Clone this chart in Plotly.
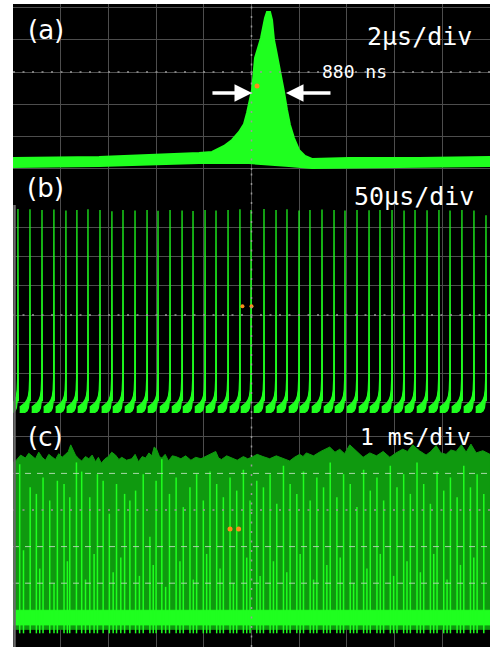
import plotly.graph_objects as go

W, H = 490, 647

# ---------------- panel (a): single pulse, 2 us/div ----------------
# outline of the pulse trace (upper edge, left to right), time in us, level in div
a_top_t = [-10.0, -6.39, -2.20, -1.656, -1.153, -0.818, -0.524, -0.314, -0.189, -0.063,
           0.021, 0.063, 0.105, 0.147, 0.273, 0.398, 0.482, 0.566, 0.650, 0.776,
           0.860, 0.901, 0.943, 1.027, 1.111, 1.237, 1.363, 1.489, 1.614, 1.782,
           1.992, 2.243, 2.537, 4.09, 7.02, 10.0]
a_top_v = [-2.667, -2.636, -2.512, -2.481, -2.295, -2.109, -1.860, -1.612, -1.271, -0.868,
           -0.558, -0.248, 0.124, 0.434, 0.744, 1.054, 1.364, 1.674, 1.860, 1.860,
           1.612, 1.364, 0.992, 0.682, 0.372, -0.093, -0.620, -1.178, -1.643, -2.047,
           -2.419, -2.605, -2.698, -2.667, -2.667, -2.636]
# lower edge of the trace band (right to left)
a_bot_t = [10.0, 6.18, 2.537, 1.572, -0.105, -2.20, -6.39, -10.0]
a_bot_v = [-2.915, -2.946, -2.977, -2.915, -2.822, -2.822, -2.915, -2.946]
a_cursor = (0.231, -0.434)

# ---------------- panel (b): pulse train, 50 us/div ----------------
b_spike_t = [-244.8, -232.2, -219.6, -207.1, -194.5, -183.0, -171.4, -158.8, -146.3, -134.7,
             -122.1, -109.5, -98.0, -85.4, -72.8, -61.3, -48.7, -37.2, -24.6, -12.1,
             -0.5, 13.1, 25.7, 37.2, 49.8, 61.3, 73.9, 86.5, 98.0, 110.6,
             123.2, 134.7, 147.3, 159.9, 171.4, 184.0, 196.5, 208.1, 220.6, 233.2, 245.8]
b_spike_peak = [3.63, 3.62, 3.60, 3.61, 3.58, 3.60, 3.62, 3.60, 3.55, 3.60,
                3.58, 3.60, 3.57, 3.60, 3.58, 3.56, 3.60, 3.58, 3.60, 3.62,
                3.60, 3.63, 3.60, 3.62, 3.58, 3.60, 3.61, 3.60, 3.58, 3.60,
                3.59, 3.60, 3.60, 3.58, 3.60, 3.59, 3.60, 3.58, 3.60, 3.58, 3.42]
# shape of the trace around each spike: offset (us) and level (div),
# upper edge and lower edge of the noisy base band
b_up_dt = [-10.8, -8.0, -5.0, -3.0, -1.6, -0.8, -0.35]
b_up_v = [-3.16, -3.08, -3.00, -2.90, -2.76, -2.55, -2.15]
b_lo_dt = [-10.8, -8.0, -5.0, -3.0, -1.6, -0.8, -0.35]
b_lo_v = [-3.37, -3.36, -3.33, -3.28, -3.18, -3.04, -2.85]
b_cursor_t = [-9.5, 0.0]
b_cursor_v = [0.3, 0.3]

# ---------------- panel (c): long record, 1 ms/div ----------------
c_env_t = [-5.0, -4.93, -4.84, -4.74, -4.67, -4.61, -4.53, -4.46, -4.39, -4.32, -4.25, -4.19,
           -4.11, -4.04, -3.97, -3.90, -3.84, -3.79, -3.74, -3.69, -3.62, -3.56, -3.48,
           -3.41, -3.34, -3.27, -3.21, -3.15, -3.07, -3.00, -2.93, -2.85, -2.78, -2.72,
           -2.62, -2.51, -2.44, -2.37, -2.29, -2.22, -2.15, -2.09, -2.04, -1.99, -1.93,
           -1.88, -1.81, -1.74, -1.66, -1.59, -1.48, -1.38, -1.27, -1.17, -1.06, -0.96,
           -0.85, -0.75, -0.69, -0.63, -0.52, -0.42, -0.30, -0.17, -0.08, 0.00, 0.12,
           0.24, 0.38, 0.52, 0.66, 0.80, 0.90, 1.01, 1.08, 1.15, 1.30, 1.45, 1.64, 1.75,
           1.85, 1.95, 2.06, 2.20, 2.34, 2.48, 2.62, 2.76, 2.90, 3.03, 3.17, 3.27, 3.38,
           3.52, 3.66, 3.76, 3.87, 3.97, 4.08, 4.18, 4.29, 4.40, 4.50, 4.60, 4.71, 4.85, 5.0]
c_env_v = [1.30, 1.36, 1.50, 1.42, 1.55, 1.48, 1.40, 1.58, 1.44, 1.36, 1.52, 1.46,
           1.38, 1.54, 1.44, 1.52, 1.60, 1.78, 1.62, 1.50, 1.40, 1.34, 1.46,
           1.40, 1.50, 1.32, 1.44, 1.28, 1.40, 1.46, 1.58, 1.50, 1.38, 1.44,
           1.36, 1.40, 1.52, 1.32, 1.46, 1.42, 1.56, 1.48, 1.72, 1.66, 1.46,
           1.42, 1.52, 1.34, 1.48, 1.46, 1.40, 1.48, 1.36, 1.44, 1.40, 1.46,
           1.54, 1.60, 1.42, 1.38, 1.48, 1.42, 1.36, 1.46, 1.40, 1.44, 1.52,
           1.46, 1.40, 1.48, 1.42, 1.34, 1.44, 1.52, 1.46, 1.56, 1.48, 1.60, 1.72, 1.58,
           1.66, 1.54, 1.78, 1.62, 1.44, 1.56, 1.48, 1.60, 1.44, 1.56, 1.66, 1.60, 1.78,
           1.62, 1.50, 1.60, 1.76, 1.56, 1.52, 1.64, 1.60, 1.78, 1.58, 1.80, 1.56, 1.62, 1.52]
c_line_t = [-4.86, -4.78, -4.64, -4.51, -4.44, -4.37, -4.23, -4.14, -4.07, -3.93, -3.86,
            -3.81, -3.67, -3.56, -3.48, -3.39, -3.30, -3.23, -3.11, -2.98, -2.90, -2.83,
            -2.74, -2.66, -2.55, -2.43, -2.35, -2.27, -2.13, -2.06, -2.00, -1.88, -1.80,
            -1.72, -1.58, -1.50, -1.43, -1.29, -1.22, -1.15, -1.01, -0.94, -0.87, -0.73,
            -0.66, -0.59, -0.45, -0.38, -0.31, -0.17, -0.10, -0.03, 0.11, 0.18, 0.25,
            0.39, 0.46, 0.53, 0.67, 0.74, 0.81, 0.95, 1.02, 1.09, 1.23, 1.30, 1.37,
            1.51, 1.58, 1.65, 1.79, 1.86, 1.93, 2.07, 2.14, 2.21, 2.35, 2.42, 2.49,
            2.63, 2.70, 2.77, 2.91, 2.98, 3.05, 3.19, 3.26, 3.33, 3.47, 3.54, 3.61,
            3.75, 3.82, 3.89, 4.03, 4.10, 4.17, 4.31, 4.38, 4.45, 4.59, 4.66, 4.73, 4.87, 4.94]
c_line_top = [1.25, -1.10, 0.62, 0.44, -1.60, 0.89, 0.26, -2.00, 0.80, 0.71, -1.40,
              0.35, 1.30, 1.05, -1.90, 0.35, -1.20, 0.98, 0.80, -0.10, -1.70, 0.71,
              -1.30, 0.44, 0.26, 0.53, -1.80, 0.98, -0.73, -1.50, 0.80, 1.39, -2.10,
              0.44, 0.89, -1.40, 0.08, 0.62, -1.90, 0.98, 0.26, -1.20, 1.05, 0.71,
              -1.60, 0.35, 0.89, -2.00, 0.53, 1.10, -1.30, 0.26, 0.80, -1.80, 0.62,
              0.98, -1.40, 0.17, 1.21, -1.70, 0.71, 0.44, -1.20, 1.05, 0.26, -1.90,
              0.89, 0.62, -1.50, 1.30, 0.35, -1.30, 0.98, 0.71, -2.00, 0.08, 1.10,
              -1.60, 0.53, 0.89, -1.20, 0.26, 1.21, -1.80, 0.62, 0.98, -1.40, 0.44,
              1.30, -1.70, 0.71, 0.17, -1.20, 1.05, 0.53, -1.90, 0.89, 0.35, -1.50,
              1.21, 0.62, -1.30, 0.98, 0.44]
c_base_top = -2.74
c_base_bot = -3.14
c_dark_bot = -3.26
c_tooth_bot = -3.37
c_cursor_t = [-0.45, -0.27]
c_cursor_v = [-0.52, -0.52]

GREEN = "#1fff1f"
DARK = "#0f990f"
GRID = "#4d4d4d"
CURSOR = "#ff8c1a"

# panel rectangles in pixels: (top, bottom)
x_left_px = 13
panels = {"a": (4, 170), "b": (170, 413), "c": (413, 647)}
# centre line position and pixels per vertical division
vcal = {"a": (72, 32.25), "b": (315, 29.2), "c": (510, 36.6)}
xspan = {"a": 10.0, "b": 250.0, "c": 5.0}
xdiv = {"a": 2.0, "b": 50.0, "c": 1.0}
ygrid = {"a": [-3, -2, -1, 0, 1, 2], "b": [-3, -2, -1, 0, 1, 2, 3], "c": [-3, -2, -1, 0, 1, 2]}

fig = go.Figure()
axis_ids = {"a": ("x", "y"), "b": ("x2", "y2"), "c": ("x3", "y3")}

# (a) trace as a filled band
fig.add_trace(go.Scatter(x=a_top_t + a_bot_t, y=a_top_v + a_bot_v, mode="lines",
                         fill="toself", fillcolor=GREEN, line=dict(color=GREEN, width=2),
                         xaxis="x", yaxis="y", hoverinfo="skip"))
fig.add_trace(go.Scatter(x=[a_cursor[0]], y=[a_cursor[1]], mode="markers",
                         marker=dict(color=CURSOR, size=5), xaxis="x", yaxis="y"))

# (b) pulse train assembled spike by spike: a base band ending in each spike
for t0, pk in zip(b_spike_t, b_spike_peak):
    xs = [t0 + d for d in b_up_dt] + [t0, t0 + 0.45] + [t0 + d for d in reversed(b_lo_dt)]
    ys = b_up_v + [pk, b_lo_v[-1] - 0.1] + list(reversed(b_lo_v))
    fig.add_trace(go.Scatter(x=xs, y=ys, mode="lines", fill="toself", fillcolor=GREEN,
                             line=dict(color=GREEN, width=1.2), xaxis="x2", yaxis="y2",
                             hoverinfo="skip"))
fig.add_trace(go.Scatter(x=b_cursor_t, y=b_cursor_v, mode="markers",
                         marker=dict(color=CURSOR, size=4), xaxis="x2", yaxis="y2"))

# (c) dense record: dark envelope, bright spikes, bright baseline band
fig.add_trace(go.Scatter(x=c_env_t + [5.0, -5.0], y=c_env_v + [c_dark_bot, c_dark_bot],
                         mode="lines", fill="toself", fillcolor=DARK, line=dict(color=DARK, width=1),
                         xaxis="x3", yaxis="y3", hoverinfo="skip"))
fig.add_trace(go.Scatter(x=[-5.0, 5.0, 5.0, -5.0], y=[c_base_top, c_base_top, c_base_bot, c_base_bot],
                         mode="lines", fill="toself", fillcolor=GREEN, line=dict(color=GREEN, width=1),
                         xaxis="x3", yaxis="y3", hoverinfo="skip"))
lx, ly = [], []
for t0, top in zip(c_line_t, c_line_top):
    lx += [t0, t0, None]
    ly += [c_tooth_bot, top, None]
fig.add_trace(go.Scatter(x=lx, y=ly, mode="lines", line=dict(color=GREEN, width=1.5),
                         xaxis="x3", yaxis="y3", hoverinfo="skip"))
fig.add_trace(go.Scatter(x=c_cursor_t, y=c_cursor_v, mode="markers",
                         marker=dict(color=CURSOR, size=5), xaxis="x3", yaxis="y3"))

layout = dict(width=W, height=H, margin=dict(l=0, r=0, t=0, b=0),
              paper_bgcolor="white", plot_bgcolor="black", showlegend=False)

for key, (xa, ya) in axis_ids.items():
    top_px, bot_px = panels[key]
    c_px, ppd = vcal[key]
    ylo = (c_px - bot_px) / ppd
    yhi = (c_px - top_px) / ppd
    xname = "xaxis" if xa == "x" else "xaxis" + xa[1:]
    yname = "yaxis" if ya == "y" else "yaxis" + ya[1:]
    span = xspan[key]
    layout[xname] = dict(domain=[x_left_px / W, 1.0], range=[-span, span],
                         anchor=ya, showgrid=True, gridcolor=GRID, gridwidth=1.3,
                         tickmode="array",
                         tickvals=[-span + k * xdiv[key] for k in range(1, 10)],
                         showticklabels=False, ticks="", zeroline=False, showline=False,
                         fixedrange=True)
    layout[yname] = dict(domain=[1 - bot_px / H, 1 - top_px / H], range=[ylo, yhi],
                         anchor=xa, showgrid=True, gridcolor=GRID, gridwidth=1.3,
                         tickmode="array", tickvals=ygrid[key],
                         showticklabels=False, ticks="", zeroline=False, showline=False,
                         fixedrange=True)

fig.update_layout(**layout)

# dotted centre graticule lines
shapes = []
for key, (xa, ya) in axis_ids.items():
    span = xspan[key]
    shapes.append(dict(type="line", xref=xa, yref=ya, x0=-span, x1=span, y0=0, y1=0,
                       line=dict(color="#9a9a9a", width=1.5, dash="2px,7.5px"), layer="above"))
    shapes.append(dict(type="line", xref=xa, yref=ya + " domain", x0=0, x1=0, y0=0, y1=1,
                       line=dict(color="#9a9a9a", width=1.5, dash="2px,7.5px"), layer="above"))
# dashed graticule over the dense record
for yv in [-2, -1, 1]:
    shapes.append(dict(type="line", xref="x3", yref="y3", x0=-5, x1=5, y0=yv, y1=yv,
                       line=dict(color="#a8d8a8", width=1, dash="6px,6px"), layer="above"))
# screen border strip on the left of the lower two records
shapes.append(dict(type="line", xref="paper", yref="paper", x0=14.5 / W, x1=14.5 / W,
                   y0=0, y1=1 - 205 / H, line=dict(color="#6a6a6a", width=2.5), layer="above"))
fig.update_layout(shapes=shapes)

# width markers
ann = []
arrow_y = -0.651
ann.append(dict(x=0.02, y=arrow_y, ax=-1.70, ay=arrow_y, xref="x", yref="y", axref="x", ayref="y",
                text="", showarrow=True, arrowhead=2, arrowsize=1, arrowwidth=3.5, arrowcolor="white"))
ann.append(dict(x=1.447, y=arrow_y, ax=3.375, ay=arrow_y, xref="x", yref="y", axref="x", ayref="y",
                text="", showarrow=True, arrowhead=2, arrowsize=1, arrowwidth=3.5, arrowcolor="white"))
ann.append(dict(x=4.30, y=0.0, xref="x", yref="y", text="880 ns", showarrow=False,
                font=dict(family="DejaVu Sans Mono", size=18, color="white")))


def px_label(text, cx, cy, size, family="DejaVu Sans Mono"):
    return dict(x=cx / W, y=1 - cy / H, xref="paper", yref="paper", text=text, showarrow=False,
                xanchor="center", yanchor="middle", font=dict(family=family, size=size, color="white"))


ann.append(px_label("(a)", 45.5, 30, 26, "DejaVu Sans"))
ann.append(px_label("(b)", 45.5, 188, 26, "DejaVu Sans"))
ann.append(px_label("(c)", 45.5, 437, 26, "DejaVu Sans"))
ann.append(px_label("2μs/div", 419.5, 36, 25))
ann.append(px_label("50μs/div", 414, 196, 25))
ann.append(px_label("1 ms/div", 415, 437, 23))
fig.update_layout(annotations=ann)

fig.write_html("out.html")
